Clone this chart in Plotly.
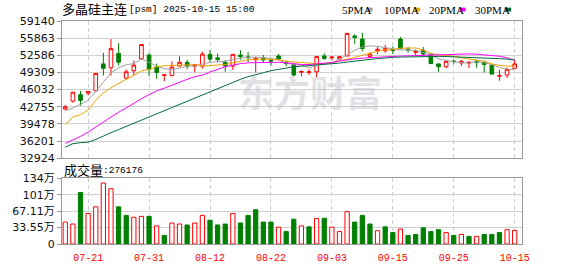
import plotly.graph_objects as go

# ---------------- data ----------------
dates = ["07-16", "07-17", "07-18", "07-21", "07-22", "07-23", "07-24", "07-25", "07-28", "07-29",
         "07-30", "07-31", "08-01", "08-04", "08-05", "08-06", "08-07", "08-08", "08-11", "08-12",
         "08-13", "08-14", "08-15", "08-18", "08-19", "08-20", "08-21", "08-22", "08-25", "08-26",
         "08-27", "08-28", "08-29", "09-01", "09-02", "09-03", "09-04", "09-05", "09-08", "09-09",
         "09-10", "09-11", "09-12", "09-15", "09-16", "09-17", "09-18", "09-19", "09-22", "09-23",
         "09-24", "09-25", "09-26", "09-29", "09-30", "10-09", "10-10", "10-13", "10-14", "10-15"]

opens = [42335, 43847, 45067, 45363, 45795, 50947, 50219, 52950, 48216, 49618,
         51912, 52640, 50347, 48750, 48708, 50529, 51259, 50529, 50529, 52768,
         52100, 51259, 50529, 52640, 52300, 51730, 52040, 51650, 52459, 51259,
         50820, 49350, 49300, 49436, 52459, 52100, 51858, 52459, 56285, 55681,
         52338, 53440, 53440, 53650, 55681, 53750, 53150, 53550, 52823, 50947,
         50401, 51500, 51130, 51100, 51450, 51259, 50711, 48600, 48817, 50091]
highs = [43118, 45600, 45795, 45750, 49200, 53077, 55681, 54898, 49910, 51620,
         54750, 53000, 51002, 48999, 51441, 52400, 51730, 50947, 53259, 53550,
         52950, 51620, 52800, 53550, 53259, 52338, 52640, 52040, 52823, 51441,
         51002, 49728, 49910, 52400, 52950, 52459, 52400, 56800, 56591, 56900,
         53200, 54170, 54588, 54280, 56100, 54170, 53678, 54170, 53000, 51000,
         51500, 51730, 51730, 51494, 51730, 51548, 50947, 49800, 50219, 51730]
lows = [42026, 43537, 42936, 44940, 45700, 48708, 48708, 50638, 47979, 48708,
        51800, 48600, 48088, 47615, 48600, 50400, 49910, 49309, 50037, 51259,
        51259, 49436, 49800, 51730, 51259, 49309, 51130, 50638, 51800, 50529,
        48580, 48526, 48817, 48400, 51730, 51620, 51750, 52400, 54770, 53369,
        52100, 52823, 53077, 52823, 53800, 53077, 52640, 52338, 50950, 49436,
        50165, 50947, 50529, 50165, 50219, 49309, 48950, 47725, 48270, 50000]
closes = [42754, 45541, 43974, 45668, 49127, 50091, 53860, 51259, 49436, 50711,
          54643, 49910, 49309, 48850, 50347, 51259, 50529, 50820, 52823, 51858,
          51800, 50529, 52768, 52338, 52150, 52040, 51700, 51500, 51858, 51000,
          48817, 49490, 49420, 52338, 51985, 52250, 52338, 56774, 55990, 53860,
          52823, 53732, 53860, 53500, 53860, 53650, 53300, 52823, 51002, 50401,
          51441, 51400, 51441, 51250, 51280, 50820, 48999, 48708, 49910, 50947]

ma5 = [42026, 42518, 43246, 43974, 45700, 47400, 49250, 50200, 50800, 51000,
       51850, 51250, 50500, 50040, 49900, 50100, 50500, 50550, 50900, 51259,
       51350, 51450, 51800, 52050, 52222, 52222, 52200, 52000, 51730, 51100,
       50800, 50700, 50250, 50500, 51000, 51200, 51800, 52700, 53550, 54170,
       54400, 54300, 54100, 53800, 53600, 53600, 53500, 53100, 52700, 51900,
       51600, 51350, 51150, 51130, 51350, 51200, 50800, 50250, 49950, 49800]
ma10 = [39300, 40800, 41250, 42150, 44000, 45400, 46400, 47250, 48000, 48700,
        49600, 49900, 50400, 50600, 50640, 50820, 50820, 50800, 50550, 50620,
        50800, 50820, 51130, 51500, 51750, 51850, 51860, 51860, 51700, 51440,
        51300, 51200, 51050, 51000, 51050, 51150, 51500, 51800, 52200, 52600,
        53000, 53350, 53650, 53700, 53950, 53990, 53990, 53600, 52950, 52700,
        52550, 52400, 52100, 51900, 51700, 51440, 50950, 50650, 50529, 50529]
ma20 = [35750, 36400, 37100, 37900, 38900, 39900, 40800, 41700, 42500, 43400,
        44300, 45100, 45800, 46300, 46900, 47500, 48000, 48500, 48800, 49400,
        49900, 50400, 50700, 51000, 51150, 51200, 51260, 51260, 51260, 51150,
        51000, 50820, 50820, 50900, 51000, 51200, 51500, 51750, 51900, 52050,
        52150, 52250, 52350, 52400, 52450, 52480, 52520, 52560, 52620, 52640,
        52700, 52800, 52880, 52850, 52800, 52700, 52600, 52400, 52100, 51600]
ma30 = [35050, 35700, 35900, 36000, 36500, 37200, 37800, 38400, 39000, 39600,
        40300, 40900, 41500, 42100, 42700, 43300, 43900, 44500, 45100, 45700,
        46300, 46900, 47450, 48000, 48500, 48900, 49300, 49650, 49900, 50150,
        50400, 50500, 50600, 50720, 50820, 50950, 51100, 51300, 51500, 51650,
        51800, 51950, 52100, 52200, 52250, 52300, 52330, 52350, 52380, 52380,
        52350, 52300, 52250, 52220, 52200, 52180, 52100, 51950, 51850, 51730]

# volume in units of 万 (10k)
volume_wan = [44.7, 40.8, 105.0, 62.2, 75.9, 124.5, 112.8, 75.9, 58.4, 54.5,
              56.4, 56.4, 37.0, 17.5, 42.8, 40.8, 38.9, 42.8, 58.4, 48.6,
              38.9, 40.8, 62.2, 42.8, 58.4, 70.0, 44.7, 44.7, 34.4, 25.3,
              50.6, 37.0, 35.0, 51.9, 52.5, 34.4, 25.3, 66.1, 44.7, 58.4,
              40.8, 27.2, 35.0, 23.3, 30.5, 17.5, 19.5, 33.1, 25.3, 29.2,
              23.3, 17.5, 19.5, 15.6, 15.6, 19.5, 19.5, 23.3, 29.2, 27.6176]
# +1 = up (red hollow bar), -1 = down (green bar)
vol_dir = [1, 1, -1, 1, 1, 1, 1, -1, -1, 1,
           1, -1, 1, -1, 1, 1, -1, 1, 1, -1,
           -1, -1, 1, -1, -1, -1, -1, -1, 1, -1,
           -1, 1, -1, 1, -1, 1, 1, 1, -1, -1,
           -1, 1, -1, -1, 1, -1, -1, -1, -1, -1,
           1, -1, 1, -1, 1, -1, -1, -1, 1, 1]

price_ticks = [32924, 36201, 39478, 42755, 46032, 49309, 52586, 55863, 59140]
vol_ticks = [0, 33.55, 67.11, 100.65, 134.2]
vol_tick_labels = ["0", "33.55万", "67.11万", "101万", "134万"]
x_tick_labels = ["07-21", "07-31", "08-12", "08-22", "09-03", "09-15", "09-25", "10-15"]

title_cn = "多晶硅主连"
title_rest = "[psm] 2025-10-15 15:00"
vol_title_cn = "成交量"
vol_title_val = ":276176"
ma_names = ["5PMA", "10PMA", "20PMA", "30PMA"]
watermark = "东方财富"

# ---------------- style ----------------
RED = "#ff0000"
GREEN = "#008000"
MA_COLORS = ["#a0a0a0", "#f0a000", "#ff00ff", "#006b3c"]
GRID = "#d0d0d0"
FRAME = "#999999"

W, H = 578, 276
L, R, T, B = 57, 56, 21, 21
PW, PH = W - L - R, H - T - B


def px(x):
    return (x - L) / PW


def py(y):
    return (H - B - y) / PH


fig = go.Figure()

fig.add_trace(go.Candlestick(
    x=dates, open=opens, high=highs, low=lows, close=closes,
    increasing=dict(line=dict(color=RED, width=1), fillcolor="#ffffff"),
    decreasing=dict(line=dict(color=GREEN, width=1), fillcolor=GREEN),
    whiskerwidth=0, xaxis="x", yaxis="y", hoverinfo="skip", showlegend=False))

for name, vals, col in zip(ma_names, [ma5, ma10, ma20, ma30], MA_COLORS):
    fig.add_trace(go.Scatter(x=dates, y=vals, mode="lines", name=name,
                             line=dict(color=col, width=1), xaxis="x", yaxis="y",
                             hoverinfo="skip", showlegend=False))

fig.add_trace(go.Bar(
    x=dates, y=volume_wan, xaxis="x2", yaxis="y2",
    marker=dict(color=["#ffffff" if d > 0 else GREEN for d in vol_dir],
                line=dict(color=[RED if d > 0 else GREEN for d in vol_dir], width=1)),
    hoverinfo="skip", showlegend=False))

xrange = [-0.43, 59.96]
common_x = dict(type="category", categoryorder="array", categoryarray=dates,
                range=xrange, tickmode="array", tickvals=x_tick_labels,
                showgrid=True, gridcolor=GRID, griddash="4px,3px", gridwidth=1,
                showline=True, mirror=True, linecolor=FRAME, linewidth=1,
                zeroline=False, fixedrange=True)

fig.update_layout(
    width=W, height=H,
    margin=dict(l=L, r=R, t=T, b=B, pad=0),
    paper_bgcolor="#ffffff", plot_bgcolor="#ffffff",
    showlegend=False, bargap=0.44, boxgap=0.32,
    font=dict(family="DejaVu Sans, Noto Sans CJK SC", size=11, color="#000000"),
    xaxis=dict(common_x, domain=[0, 1], anchor="y", showticklabels=False,
               rangeslider=dict(visible=False), ticks=""),
    yaxis=dict(domain=[py(165), 1], range=[price_ticks[0], price_ticks[-1]],
               tickmode="array", tickvals=price_ticks,
               ticktext=[str(v) for v in price_ticks],
               showgrid=True, gridcolor=GRID, gridwidth=1,
               showline=True, mirror=True, linecolor=FRAME, linewidth=1,
               ticks="outside", ticklen=4, tickcolor=FRAME, zeroline=False,
               tickfont=dict(family="DejaVu Sans", size=11, color="#111111")),
    xaxis2=dict(common_x, domain=[0, 1], anchor="y2", matches="x",
                showticklabels=True, ticks="outside", ticklen=4,
                tickcolor="rgba(0,0,0,0)",
                tickfont=dict(family="Liberation Mono", size=10, color=RED)),
    yaxis2=dict(domain=[0, py(186)], range=[0, vol_ticks[-1]],
                tickmode="array", tickvals=vol_ticks, ticktext=vol_tick_labels,
                showgrid=True, gridcolor=GRID, gridwidth=1,
                showline=True, mirror=True, linecolor=FRAME, linewidth=1,
                ticks="outside", ticklen=4, tickcolor=FRAME, zeroline=False,
                tickfont=dict(family="DejaVu Sans, Noto Sans CJK SC", size=11, color="#111111")),
)

ann = []
# watermark
ann.append(dict(text="<b>" + watermark + "</b>", x=px(308), y=py(94), xref="paper", yref="paper",
                showarrow=False, xanchor="center", yanchor="middle",
                font=dict(family="Noto Sans CJK SC", size=36, color="rgba(190,190,200,0.45)")))
# title
ann.append(dict(text=title_cn, x=px(55), y=py(8), xref="paper", yref="paper", showarrow=False,
                xanchor="left", yanchor="middle",
                font=dict(family="Noto Sans CJK SC", size=13, color="#000000")))
ann.append(dict(text=title_rest, x=px(123), y=py(8.5), xref="paper", yref="paper", showarrow=False,
                xanchor="left", yanchor="middle",
                font=dict(family="Liberation Mono", size=9.5, color="#000000")))
# volume title
ann.append(dict(text=vol_title_cn, x=px(57), y=py(177), xref="paper", yref="paper", showarrow=False,
                xanchor="left", yanchor="middle",
                font=dict(family="Noto Sans CJK SC", size=13, color="#000000")))
ann.append(dict(text=vol_title_val, x=px(96), y=py(177.5), xref="paper", yref="paper", showarrow=False,
                xanchor="left", yanchor="middle",
                font=dict(family="Liberation Mono", size=9.5, color="#000000")))

# MA legend
legend_text_x = [338, 380, 426, 472]
legend_box_x = [365, 413, 459, 505]
shapes = []
for name, col, tx, bx in zip(ma_names, MA_COLORS, legend_text_x, legend_box_x):
    ann.append(dict(text=name, x=px(tx), y=py(9), xref="paper", yref="paper", showarrow=False,
                    xanchor="left", yanchor="middle",
                    font=dict(family="Liberation Serif", size=11, color="#000000")))
    shapes.append(dict(type="rect", xref="paper", yref="paper",
                       x0=px(bx), x1=px(bx + 6), y0=py(11), y1=py(7),
                       fillcolor=col, line=dict(width=0)))

fig.update_layout(annotations=ann, shapes=shapes)

fig.write_html("out.html")
